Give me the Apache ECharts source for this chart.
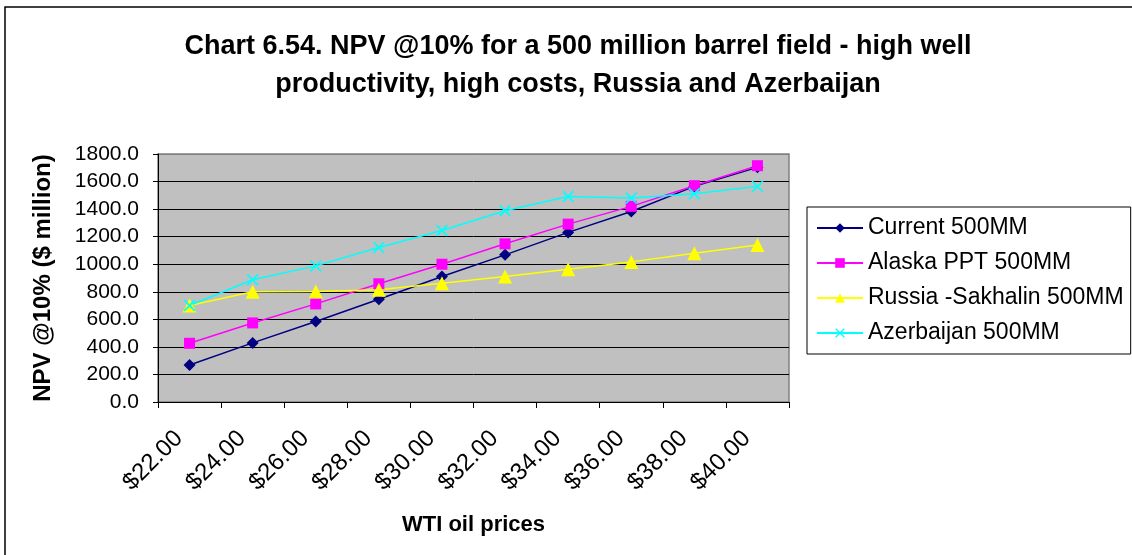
<!DOCTYPE html>
<html>
<head>
<meta charset="utf-8">
<script src="https://cdn.jsdelivr.net/npm/echarts@6/dist/echarts.min.js"></script>
<style>
  html, body { margin: 0; padding: 0; background: #ffffff; }
  #chart { width: 1132px; height: 555px; }
</style>
</head>
<body>
<div id="chart"></div>
<script>
// WTI oil price scenarios (x axis categories)
const prices = ['$22.00', '$24.00', '$26.00', '$28.00', '$30.00', '$32.00', '$34.00', '$36.00', '$38.00', '$40.00'];

// NPV @10% ($ million) for each fiscal regime
const current500 = [269, 429, 584, 746, 911, 1068, 1231, 1383, 1565, 1703];
const alaskaPPT500 = [426, 574, 712, 858, 1000, 1148, 1291, 1420, 1570, 1715];
const russiaSakhalin500 = [700, 800, 802, 814, 862, 911, 964, 1017, 1080, 1139];
const azerbaijan500 = [700, 887, 988, 1122, 1245, 1388, 1492, 1480, 1512, 1565];

const seriesNames = ['Current 500MM', 'Alaska PPT 500MM', 'Russia -Sakhalin 500MM', 'Azerbaijan 500MM'];

// X-shaped marker outline
const crossPath = 'path://M0,1L1,0L5,4L9,0L10,1L6,5L10,9L9,10L5,6L1,10L0,9L4,5Z';

const font = 'Arial, "Liberation Sans", Helvetica, sans-serif';

const chart = echarts.init(document.getElementById('chart'), null, { renderer: 'canvas' });

function lineSeries(name, data, color, symbol, size) {
  return {
    name: name,
    type: 'line',
    data: data,
    symbol: symbol,
    symbolSize: size,
    showAllSymbol: true,
    lineStyle: { color: color, width: 1.5 },
    itemStyle: { color: color, borderWidth: 0 },
    emphasis: { disabled: true },
    animation: false
  };
}

// gridlines are black, except the top one which sits on the grey plot border
const splitColors = ['#000', '#000', '#000', '#000', '#000', '#000', '#000', '#000', '#000', '#808080'];

chart.setOption({
  backgroundColor: '#ffffff',
  textStyle: { fontFamily: font },
  title: {
    text: 'Chart 6.54. NPV @10% for a 500 million barrel field - high well\nproductivity, high costs, Russia and Azerbaijan',
    left: 573,
    top: 23,
    textAlign: 'center',
    textStyle: { fontFamily: font, fontSize: 27, fontWeight: 'bold', color: '#000', lineHeight: 38 }
  },
  graphic: [{
    type: 'rect',
    shape: { x: 5, y: 7, width: 1140, height: 560 },
    style: { fill: 'none', stroke: '#000', lineWidth: 1.5 },
    silent: true
  }],
  legend: {
    orient: 'vertical',
    left: 807,
    top: 207,
    padding: [9, 7, 9, 9],
    itemWidth: 46,
    itemHeight: 12,
    itemGap: 11,
    borderColor: '#000',
    borderWidth: 1,
    data: seriesNames,
    selectedMode: false,
    textStyle: { fontFamily: font, fontSize: 23, color: '#000', lineHeight: 24 }
  },
  grid: {
    left: 158,
    right: 343,
    top: 154,
    bottom: 153,
    show: true,
    backgroundColor: '#C0C0C0',
    borderColor: '#808080',
    borderWidth: 1.5
  },
  xAxis: {
    type: 'category',
    data: prices,
    boundaryGap: true,
    name: 'WTI oil prices',
    nameLocation: 'middle',
    nameGap: 112,
    nameTextStyle: { fontFamily: font, fontSize: 22, fontWeight: 'bold', color: '#000' },
    axisLine: { lineStyle: { color: '#000', width: 1 } },
    axisTick: { show: true, length: 6, lineStyle: { color: '#000' } },
    axisLabel: {
      rotate: 45, fontSize: 24, color: '#000', margin: 22, fontFamily: font, interval: 0,
      padding: [0, 15, 0, 0]
    },
    splitLine: { show: false }
  },
  yAxis: {
    type: 'value',
    min: 0,
    max: 1800,
    interval: 200,
    name: 'NPV @10% ($ million)',
    nameLocation: 'middle',
    nameGap: 103,
    nameTextStyle: { fontFamily: font, fontSize: 24, fontWeight: 'bold', color: '#000' },
    axisLine: { show: true, lineStyle: { color: '#000', width: 1 } },
    axisTick: { show: true, length: 5, lineStyle: { color: '#000' } },
    axisLabel: {
      fontSize: 21, color: '#000', margin: 19, fontFamily: font,
      formatter: v => v.toFixed(1)
    },
    splitLine: { show: true, lineStyle: { color: splitColors, width: 1 } }
  },
  series: [
    lineSeries(seriesNames[0], current500, '#000080', 'diamond', 12),
    lineSeries(seriesNames[1], alaskaPPT500, '#FF00FF', 'rect', 11),
    lineSeries(seriesNames[2], russiaSakhalin500, '#FFFF00', 'triangle', 14),
    lineSeries(seriesNames[3], azerbaijan500, '#00FFFF', crossPath, 12)
  ]
});
</script>
</body>
</html>
